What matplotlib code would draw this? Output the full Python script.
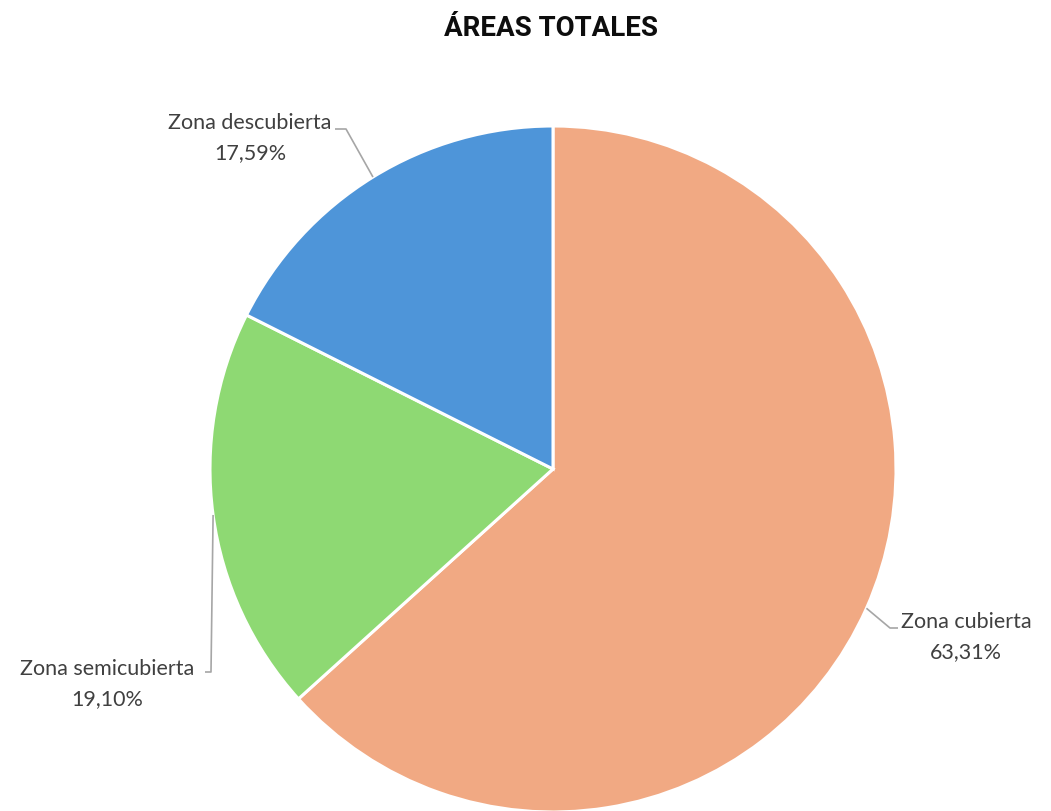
import numpy as np
import matplotlib.pyplot as plt

# datos del gráfico
zonas = ["Zona cubierta", "Zona semicubierta", "Zona descubierta"]
porcentajes = [63.31, 19.10, 17.59]
colores = ["#F1A983", "#8ED973", "#4E95D9"]

W, H = 1051, 812
fig = plt.figure(figsize=(W / 100, H / 100), dpi=100)
ax = fig.add_axes([0, 0, 1, 1])

cx, cy, r = 553, H - 470, 343
wedges, _ = ax.pie(porcentajes, colors=colores, startangle=90, counterclock=False,
                   center=(cx, cy), radius=r,
                   wedgeprops=dict(edgecolor="white", linewidth=2.2))
ax.set_xlim(0, W)
ax.set_ylim(0, H)
ax.set_aspect("equal")
ax.axis("off")

# posiciones de etiquetas: codo de la línea, fin de línea, texto (x, y)
layout = {
    "Zona cubierta": ((890, 629), (898, 629), (966, 622)),
    "Zona semicubierta": ((211, 673), (205, 673), (107, 669)),
    "Zona descubierta": ((346, 130), (335, 130), (250, 123)),
}

def fmt(v):
    return ("%.2f%%" % v).replace(".", ",")

for w, zona, v in zip(wedges, zonas, porcentajes):
    ang = np.deg2rad((w.theta1 + w.theta2) / 2)
    x0 = cx + r * np.cos(ang)
    y0 = cy + r * np.sin(ang)
    (ex, ey), (fx, fy), (tx, ty) = layout[zona]
    ax.plot([x0, ex, fx], [y0, H - ey, H - fy], color="#A6A6A6", lw=1.2,
            solid_capstyle="butt")
    ax.text(tx, H - ty, zona, ha="center", va="center", fontsize=15.5,
            family="Lato", color="#404040")
    ax.text(tx, H - ty - 30, fmt(v), ha="center", va="center", fontsize=15.5,
            family="Lato", color="#404040")

fig.text(551 / W, 1 - 28 / H, "ÁREAS TOTALES", ha="center", va="center",
         fontsize=20, fontweight="bold", family="Roboto", color="#0D0D0D")

fig.savefig("out.png", dpi=100)
